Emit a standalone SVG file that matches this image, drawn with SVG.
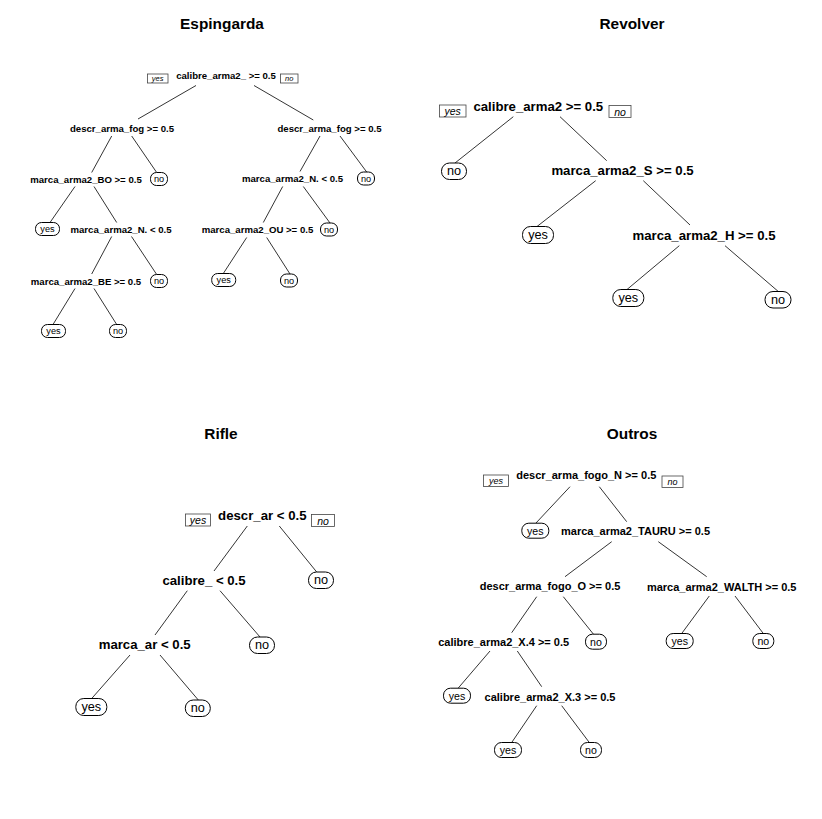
<svg xmlns="http://www.w3.org/2000/svg" width="822" height="819" viewBox="0 0 822 819">
  <style>
    text { font-family: "Liberation Sans", Arial, sans-serif; fill: #000; text-anchor: middle; dominant-baseline: central; }
    .title { font-size: 15.4px; font-weight: bold; dominant-baseline: alphabetic; }
    .sp-s { font-size: 9.6px; font-weight: bold; }
    .sp-m { font-size: 11px; font-weight: bold; }
    .sp-l { font-size: 13.2px; font-weight: bold; }
    .lf-s { font-size: 9.2px; }
    .lf-m { font-size: 10.6px; }
    .lf-l { font-size: 12.7px; }
    .yn-s { font-size: 7.5px; font-style: italic; }
    .yn-m { font-size: 9px; font-style: italic; }
    .yn-l { font-size: 10.5px; font-style: italic; }
    .leaf { fill: #fff; stroke: #000; stroke-width: 1; }
    .ynbox { fill: #fff; stroke: #444; stroke-width: 0.8; }
    .edges line { stroke: #000; stroke-width: 0.8; }
  </style>
  <rect width="822" height="819" fill="#fff"/>

  <!-- panel titles -->
  <text class="title" x="222" y="28.5">Espingarda</text>
  <text class="title" x="632" y="28.5">Revolver</text>
  <text class="title" x="221" y="438.5">Rifle</text>
  <text class="title" x="632" y="438.5">Outros</text>

  <!-- branches -->
  <g id="connectors" class="edges">
    <!-- Espingarda -->
    <line x1="196" y1="85.5" x2="138" y2="119"/>
    <line x1="254" y1="85.5" x2="313.3" y2="120"/>
    <line x1="111.7" y1="136" x2="91.7" y2="172.5"/>
    <line x1="131.7" y1="136" x2="156.7" y2="172.5"/>
    <line x1="75" y1="186.5" x2="50" y2="222.5"/>
    <line x1="94" y1="186.5" x2="116.7" y2="222.5"/>
    <line x1="111.7" y1="236.5" x2="91.7" y2="274"/>
    <line x1="131.5" y1="236.5" x2="156.7" y2="274.5"/>
    <line x1="75" y1="288.5" x2="53" y2="324.5"/>
    <line x1="94" y1="288.5" x2="116.7" y2="324.5"/>
    <line x1="320" y1="136" x2="300" y2="171.5"/>
    <line x1="340" y1="136" x2="366.7" y2="172"/>
    <line x1="282.7" y1="186.5" x2="263.3" y2="222.5"/>
    <line x1="303.3" y1="186.5" x2="330" y2="223"/>
    <line x1="246.7" y1="237.5" x2="223.3" y2="273.5"/>
    <line x1="266.7" y1="237.5" x2="290" y2="274"/>
    <!-- Revolver -->
    <line x1="513.3" y1="116.7" x2="455" y2="163"/>
    <line x1="560" y1="116.7" x2="606.7" y2="160.7"/>
    <line x1="595.7" y1="180.7" x2="537" y2="226.5"/>
    <line x1="643.3" y1="180.7" x2="690" y2="225"/>
    <line x1="679.3" y1="245.7" x2="627" y2="289.5"/>
    <line x1="725" y1="245.7" x2="778.3" y2="291.5"/>
    <!-- Rifle -->
    <line x1="247.3" y1="526" x2="214" y2="571"/>
    <line x1="279.3" y1="526" x2="316.7" y2="572"/>
    <line x1="187.3" y1="590.7" x2="155" y2="635"/>
    <line x1="220" y1="590.7" x2="260" y2="637"/>
    <line x1="130" y1="655" x2="91.7" y2="698.5"/>
    <line x1="160" y1="655" x2="198.3" y2="700"/>
    <!-- Outros -->
    <line x1="570" y1="486.7" x2="536" y2="523"/>
    <line x1="599.3" y1="486.7" x2="626.7" y2="521.7"/>
    <line x1="611.7" y1="541.7" x2="565" y2="576.7"/>
    <line x1="658.3" y1="541.7" x2="706.7" y2="576.7"/>
    <line x1="536.7" y1="596.7" x2="511.7" y2="632.7"/>
    <line x1="563.3" y1="596.7" x2="593.3" y2="634"/>
    <line x1="709.3" y1="596" x2="681.7" y2="633.5"/>
    <line x1="735" y1="596" x2="763.3" y2="633.5"/>
    <line x1="490" y1="651" x2="458.3" y2="688"/>
    <line x1="517.3" y1="651" x2="541.7" y2="686.7"/>
    <line x1="536.7" y1="705.7" x2="511.7" y2="742.5"/>
    <line x1="561.7" y1="705.7" x2="589.3" y2="742.5"/>
  </g>

  <!-- ===== Espingarda ===== -->
  <g id="esp-root">
    <rect class="ynbox" x="147.5" y="74" width="20.5" height="9"/>
    <text class="yn-s" x="157.7" y="78.5">yes</text>
    <text class="sp-s" x="226" y="75">calibre_arma2_ &gt;= 0.5</text>
    <rect class="ynbox" x="280.5" y="74" width="17.5" height="9"/>
    <text class="yn-s" x="289.2" y="78.5">no</text>
  </g>
  <g id="esp-n2"><text class="sp-s" x="122" y="128">descr_arma_fog &gt;= 0.5</text></g>
  <g id="esp-n3"><text class="sp-s" x="329.5" y="128">descr_arma_fog &gt;= 0.5</text></g>
  <g id="esp-n4"><text class="sp-s" x="86" y="179">marca_arma2_BO &gt;= 0.5</text></g>
  <g id="esp-n5"><rect class="leaf" x="150.5" y="172.5" width="17" height="13" rx="6"/><text class="lf-s" x="159" y="179">no</text></g>
  <g id="esp-n8"><rect class="leaf" x="35.5" y="222.5" width="24" height="13" rx="6"/><text class="lf-s" x="47.5" y="229">yes</text></g>
  <g id="esp-n9"><text class="sp-s" x="121" y="229">marca_arma2_N. &lt; 0.5</text></g>
  <g id="esp-n18"><text class="sp-s" x="86" y="281">marca_arma2_BE &gt;= 0.5</text></g>
  <g id="esp-n19"><rect class="leaf" x="150.5" y="274.5" width="17" height="13" rx="6"/><text class="lf-s" x="159" y="281">no</text></g>
  <g id="esp-n36"><rect class="leaf" x="41.5" y="324.5" width="24" height="13" rx="6"/><text class="lf-s" x="53.5" y="331">yes</text></g>
  <g id="esp-n37"><rect class="leaf" x="109.5" y="324.5" width="17" height="13" rx="6"/><text class="lf-s" x="118" y="331">no</text></g>
  <g id="esp-n6"><text class="sp-s" x="292.5" y="178.5">marca_arma2_N. &lt; 0.5</text></g>
  <g id="esp-n7"><rect class="leaf" x="357.5" y="172" width="17" height="13" rx="6"/><text class="lf-s" x="366" y="178.5">no</text></g>
  <g id="esp-n12"><text class="sp-s" x="257.5" y="229.5">marca_arma2_OU &gt;= 0.5</text></g>
  <g id="esp-n13"><rect class="leaf" x="320.5" y="223" width="17" height="13" rx="6"/><text class="lf-s" x="329" y="229.5">no</text></g>
  <g id="esp-n24"><rect class="leaf" x="211.7" y="273.5" width="24" height="13" rx="6"/><text class="lf-s" x="223.7" y="280">yes</text></g>
  <g id="esp-n25"><rect class="leaf" x="280.5" y="274" width="17" height="13" rx="6"/><text class="lf-s" x="289" y="280.5">no</text></g>

  <!-- ===== Revolver ===== -->
  <g id="rev-root">
    <rect class="ynbox" x="439.5" y="105" width="26.5" height="12"/>
    <text class="yn-l" x="452.7" y="111">yes</text>
    <text class="sp-l" x="538.3" y="106">calibre_arma2 &gt;= 0.5</text>
    <rect class="ynbox" x="609" y="105.5" width="22" height="12"/>
    <text class="yn-l" x="620" y="111.5">no</text>
  </g>
  <g id="rev-n2"><rect class="leaf" x="441.5" y="163" width="25" height="16.5" rx="8"/><text class="lf-l" x="454" y="171.2">no</text></g>
  <g id="rev-n3"><text class="sp-l" x="622.5" y="170">marca_arma2_S &gt;= 0.5</text></g>
  <g id="rev-n6"><rect class="leaf" x="522.5" y="226.5" width="31" height="17" rx="8"/><text class="lf-l" x="538" y="235">yes</text></g>
  <g id="rev-n7"><text class="sp-l" x="704" y="235">marca_arma2_H &gt;= 0.5</text></g>
  <g id="rev-n14"><rect class="leaf" x="612.8" y="289.5" width="31" height="17" rx="8"/><text class="lf-l" x="628.3" y="298">yes</text></g>
  <g id="rev-n15"><rect class="leaf" x="765" y="291.5" width="26" height="16.5" rx="8"/><text class="lf-l" x="778" y="299.7">no</text></g>

  <!-- ===== Rifle ===== -->
  <g id="rif-root">
    <rect class="ynbox" x="185.5" y="514" width="25" height="12"/>
    <text class="yn-l" x="198" y="520">yes</text>
    <text class="sp-l" x="262.3" y="515">descr_ar &lt; 0.5</text>
    <rect class="ynbox" x="311.5" y="514.5" width="23" height="12"/>
    <text class="yn-l" x="323" y="520.5">no</text>
  </g>
  <g id="rif-n2"><text class="sp-l" x="204" y="580">calibre_ &lt; 0.5</text></g>
  <g id="rif-n3"><rect class="leaf" x="308.5" y="572" width="25" height="16.5" rx="8"/><text class="lf-l" x="321" y="580.2">no</text></g>
  <g id="rif-n4"><text class="sp-l" x="144.7" y="644">marca_ar &lt; 0.5</text></g>
  <g id="rif-n5"><rect class="leaf" x="249.5" y="637" width="25" height="16.5" rx="8"/><text class="lf-l" x="262" y="645.2">no</text></g>
  <g id="rif-n8"><rect class="leaf" x="75.8" y="698.5" width="31" height="17" rx="8"/><text class="lf-l" x="91.3" y="707">yes</text></g>
  <g id="rif-n9"><rect class="leaf" x="185.3" y="700" width="25" height="16.5" rx="8"/><text class="lf-l" x="197.8" y="708.2">no</text></g>

  <!-- ===== Outros ===== -->
  <g id="out-root">
    <rect class="ynbox" x="483.5" y="475" width="25" height="11.5"/>
    <text class="yn-m" x="496" y="480.7">yes</text>
    <text class="sp-m" x="586.3" y="475">descr_arma_fogo_N &gt;= 0.5</text>
    <rect class="ynbox" x="662" y="476" width="21" height="11.5"/>
    <text class="yn-m" x="672.5" y="481.7">no</text>
  </g>
  <g id="out-n2"><rect class="leaf" x="521.8" y="523.2" width="27" height="15" rx="7"/><text class="lf-m" x="535.3" y="530.7">yes</text></g>
  <g id="out-n3"><text class="sp-m" x="635.5" y="530.7">marca_arma2_TAURU &gt;= 0.5</text></g>
  <g id="out-n6"><text class="sp-m" x="550" y="586">descr_arma_fogo_O &gt;= 0.5</text></g>
  <g id="out-n7"><text class="sp-m" x="721.7" y="586.7">marca_arma2_WALTH &gt;= 0.5</text></g>
  <g id="out-n12"><text class="sp-m" x="503.7" y="641.7">calibre_arma2_X.4 &gt;= 0.5</text></g>
  <g id="out-n13"><rect class="leaf" x="585.5" y="634.2" width="21" height="15" rx="7"/><text class="lf-m" x="596" y="641.7">no</text></g>
  <g id="out-n14"><rect class="leaf" x="666.2" y="633.5" width="27" height="15" rx="7"/><text class="lf-m" x="679.7" y="641">yes</text></g>
  <g id="out-n15"><rect class="leaf" x="752.8" y="633.5" width="21" height="15" rx="7"/><text class="lf-m" x="763.3" y="641">no</text></g>
  <g id="out-n24"><rect class="leaf" x="443.5" y="688.2" width="27" height="15" rx="7"/><text class="lf-m" x="457" y="695.7">yes</text></g>
  <g id="out-n25"><text class="sp-m" x="550" y="696.7">calibre_arma2_X.3 &gt;= 0.5</text></g>
  <g id="out-n50"><rect class="leaf" x="494.5" y="742.5" width="27" height="15" rx="7"/><text class="lf-m" x="508" y="750">yes</text></g>
  <g id="out-n51"><rect class="leaf" x="580.5" y="742.5" width="21" height="15" rx="7"/><text class="lf-m" x="591" y="750">no</text></g>
</svg>
